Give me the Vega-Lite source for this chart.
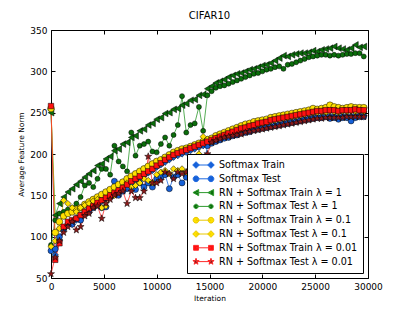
{
"$schema":"https://vega.github.io/schema/vega-lite/v6.json",
"width":317,"height":248,
"padding":{"left":17,"top":11,"right":5,"bottom":5},
"title":{"text":"CIFAR10","fontSize":10,"fontWeight":"normal","font":"DejaVu Sans","color":"#000","offset":5},
"config":{"font":"DejaVu Sans","view":{"stroke":"#000","strokeWidth":1},
"axis":{"grid":false,"domain":false,"tickColor":"#000","tickSize":-4,"labelPadding":8,"labelColor":"#000","labelFontSize":9,"titleFontSize":7.5,"titleFontWeight":"normal","titleColor":"#000","labelFont":"DejaVu Sans","titleFont":"DejaVu Sans"}},
"data":{"values":[
{"s":"a","x":0,"y":254},{"s":"a","x":400,"y":78},{"s":"a","x":800,"y":95},{"s":"a","x":1200,"y":108},{"s":"a","x":1600,"y":114},{"s":"a","x":2000,"y":115},{"s":"a","x":2400,"y":120},{"s":"a","x":2800,"y":126},{"s":"a","x":3200,"y":130},{"s":"a","x":3600,"y":134},
{"s":"a","x":4000,"y":137},{"s":"a","x":4400,"y":140},{"s":"a","x":4800,"y":143},{"s":"a","x":5200,"y":146},{"s":"a","x":5600,"y":149},{"s":"a","x":6000,"y":152},{"s":"a","x":6400,"y":155},{"s":"a","x":6800,"y":158},{"s":"a","x":7200,"y":161},{"s":"a","x":7600,"y":165},
{"s":"a","x":8000,"y":168},{"s":"a","x":8400,"y":171},{"s":"a","x":8800,"y":174},{"s":"a","x":9200,"y":177},{"s":"a","x":9600,"y":180},{"s":"a","x":10000,"y":184},{"s":"a","x":10400,"y":187},{"s":"a","x":10800,"y":190},{"s":"a","x":11200,"y":193},{"s":"a","x":11600,"y":196},
{"s":"a","x":12000,"y":198},{"s":"a","x":12400,"y":200},{"s":"a","x":12800,"y":202},{"s":"a","x":13200,"y":204},{"s":"a","x":13600,"y":206},{"s":"a","x":14000,"y":208},{"s":"a","x":14400,"y":210},{"s":"a","x":14800,"y":212},{"s":"a","x":15200,"y":214},{"s":"a","x":15600,"y":216},
{"s":"a","x":16000,"y":218},{"s":"a","x":16400,"y":220},{"s":"a","x":16800,"y":221},{"s":"a","x":17200,"y":223},{"s":"a","x":17600,"y":224},{"s":"a","x":18000,"y":226},{"s":"a","x":18400,"y":227},{"s":"a","x":18800,"y":228},{"s":"a","x":19200,"y":230},{"s":"a","x":19600,"y":231},
{"s":"a","x":20000,"y":232},{"s":"a","x":20400,"y":233},{"s":"a","x":20800,"y":234},{"s":"a","x":21200,"y":235},{"s":"a","x":21600,"y":236},{"s":"a","x":22000,"y":237},{"s":"a","x":22400,"y":238},{"s":"a","x":22800,"y":239},{"s":"a","x":23200,"y":240},{"s":"a","x":23600,"y":241},
{"s":"a","x":24000,"y":242},{"s":"a","x":24400,"y":243},{"s":"a","x":24800,"y":244},{"s":"a","x":25200,"y":245},{"s":"a","x":25600,"y":245},{"s":"a","x":26000,"y":246},{"s":"a","x":26400,"y":246},{"s":"a","x":26800,"y":246},{"s":"a","x":27200,"y":245},{"s":"a","x":27600,"y":246},
{"s":"a","x":28000,"y":246},{"s":"a","x":28400,"y":246},{"s":"a","x":28800,"y":247},{"s":"a","x":29200,"y":247},{"s":"a","x":29600,"y":247},
{"s":"b","x":0,"y":83},{"s":"b","x":400,"y":85},{"s":"b","x":800,"y":100},{"s":"b","x":1200,"y":110},{"s":"b","x":1600,"y":115},{"s":"b","x":2000,"y":115},{"s":"b","x":2400,"y":122},{"s":"b","x":2800,"y":120},{"s":"b","x":3200,"y":128},{"s":"b","x":3600,"y":130},
{"s":"b","x":4000,"y":135},{"s":"b","x":4400,"y":138},{"s":"b","x":4800,"y":135},{"s":"b","x":5200,"y":136},{"s":"b","x":5600,"y":148},{"s":"b","x":6000,"y":167},{"s":"b","x":6400,"y":150},{"s":"b","x":6800,"y":155},{"s":"b","x":7200,"y":158},{"s":"b","x":7600,"y":162},
{"s":"b","x":8000,"y":157},{"s":"b","x":8400,"y":165},{"s":"b","x":8800,"y":160},{"s":"b","x":9200,"y":165},{"s":"b","x":9600,"y":160},{"s":"b","x":10000,"y":170},{"s":"b","x":10400,"y":172},{"s":"b","x":10800,"y":175},{"s":"b","x":11200,"y":158},{"s":"b","x":11600,"y":172},
{"s":"b","x":12000,"y":175},{"s":"b","x":12400,"y":165},{"s":"b","x":12800,"y":172},{"s":"b","x":13200,"y":170},{"s":"b","x":13600,"y":175},{"s":"b","x":14000,"y":178},{"s":"b","x":14400,"y":180},{"s":"b","x":14800,"y":210},{"s":"b","x":15200,"y":213},{"s":"b","x":15600,"y":215},
{"s":"b","x":16000,"y":217},{"s":"b","x":16400,"y":219},{"s":"b","x":16800,"y":220},{"s":"b","x":17200,"y":222},{"s":"b","x":17600,"y":223},{"s":"b","x":18000,"y":225},{"s":"b","x":18400,"y":226},{"s":"b","x":18800,"y":227},{"s":"b","x":19200,"y":229},{"s":"b","x":19600,"y":230},
{"s":"b","x":20000,"y":231},{"s":"b","x":20400,"y":232},{"s":"b","x":20800,"y":233},{"s":"b","x":21200,"y":234},{"s":"b","x":21600,"y":235},{"s":"b","x":22000,"y":236},{"s":"b","x":22400,"y":237},{"s":"b","x":22800,"y":238},{"s":"b","x":23200,"y":239},{"s":"b","x":23600,"y":240},
{"s":"b","x":24000,"y":241},{"s":"b","x":24400,"y":242},{"s":"b","x":24800,"y":243},{"s":"b","x":25200,"y":244},{"s":"b","x":25600,"y":244},{"s":"b","x":26000,"y":245},{"s":"b","x":26400,"y":243},{"s":"b","x":26800,"y":244},{"s":"b","x":27200,"y":242},{"s":"b","x":27600,"y":244},
{"s":"b","x":28000,"y":244},{"s":"b","x":28400,"y":240},{"s":"b","x":28800,"y":244},{"s":"b","x":29200,"y":245},{"s":"b","x":29600,"y":245},
{"s":"c","x":0,"y":250},{"s":"c","x":400,"y":126},{"s":"c","x":800,"y":140},{"s":"c","x":1200,"y":148},{"s":"c","x":1600,"y":154},{"s":"c","x":2000,"y":158},{"s":"c","x":2400,"y":163},{"s":"c","x":2800,"y":167},{"s":"c","x":3200,"y":172},{"s":"c","x":3600,"y":176},
{"s":"c","x":4000,"y":180},{"s":"c","x":4400,"y":186},{"s":"c","x":4800,"y":188},{"s":"c","x":5200,"y":194},{"s":"c","x":5600,"y":197},{"s":"c","x":6000,"y":204},{"s":"c","x":6400,"y":206},{"s":"c","x":6800,"y":212},{"s":"c","x":7200,"y":214},{"s":"c","x":7600,"y":220},
{"s":"c","x":8000,"y":222},{"s":"c","x":8400,"y":228},{"s":"c","x":8800,"y":230},{"s":"c","x":9200,"y":235},{"s":"c","x":9600,"y":237},{"s":"c","x":10000,"y":242},{"s":"c","x":10400,"y":244},{"s":"c","x":10800,"y":249},{"s":"c","x":11200,"y":250},{"s":"c","x":11600,"y":254},
{"s":"c","x":12000,"y":255},{"s":"c","x":12400,"y":259},{"s":"c","x":12800,"y":261},{"s":"c","x":13200,"y":265},{"s":"c","x":13600,"y":266},{"s":"c","x":14000,"y":271},{"s":"c","x":14400,"y":272},{"s":"c","x":14800,"y":279},{"s":"c","x":15200,"y":282},{"s":"c","x":15600,"y":286},
{"s":"c","x":16000,"y":288},{"s":"c","x":16400,"y":290},{"s":"c","x":16800,"y":293},{"s":"c","x":17200,"y":295},{"s":"c","x":17600,"y":297},{"s":"c","x":18000,"y":298},{"s":"c","x":18400,"y":300},{"s":"c","x":18800,"y":302},{"s":"c","x":19200,"y":303},{"s":"c","x":19600,"y":305},
{"s":"c","x":20000,"y":307},{"s":"c","x":20400,"y":308},{"s":"c","x":20800,"y":310},{"s":"c","x":21200,"y":313},{"s":"c","x":21600,"y":316},{"s":"c","x":22000,"y":319},{"s":"c","x":22400,"y":318},{"s":"c","x":22800,"y":320},{"s":"c","x":23200,"y":321},{"s":"c","x":23600,"y":322},
{"s":"c","x":24000,"y":322},{"s":"c","x":24400,"y":323},{"s":"c","x":24800,"y":325},{"s":"c","x":25200,"y":324},{"s":"c","x":25600,"y":326},{"s":"c","x":26000,"y":327},{"s":"c","x":26400,"y":328},{"s":"c","x":26800,"y":330},{"s":"c","x":27200,"y":328},{"s":"c","x":27600,"y":327},
{"s":"c","x":28000,"y":326},{"s":"c","x":28400,"y":328},{"s":"c","x":28800,"y":332},{"s":"c","x":29200,"y":329},{"s":"c","x":29600,"y":330},
{"s":"d","x":0,"y":90},{"s":"d","x":400,"y":120},{"s":"d","x":800,"y":128},{"s":"d","x":1200,"y":130},{"s":"d","x":1600,"y":133},{"s":"d","x":2000,"y":135},{"s":"d","x":2400,"y":140},{"s":"d","x":2800,"y":148},{"s":"d","x":3200,"y":162},{"s":"d","x":3600,"y":165},
{"s":"d","x":4000,"y":160},{"s":"d","x":4400,"y":170},{"s":"d","x":4800,"y":182},{"s":"d","x":5200,"y":182},{"s":"d","x":5600,"y":175},{"s":"d","x":6000,"y":210},{"s":"d","x":6400,"y":191},{"s":"d","x":6800,"y":185},{"s":"d","x":7200,"y":179},{"s":"d","x":7600,"y":226},
{"s":"d","x":8000,"y":198},{"s":"d","x":8400,"y":210},{"s":"d","x":8800,"y":212},{"s":"d","x":9200,"y":215},{"s":"d","x":9600,"y":203},{"s":"d","x":10000,"y":202},{"s":"d","x":10400,"y":212},{"s":"d","x":10800,"y":220},{"s":"d","x":11200,"y":210},{"s":"d","x":11600,"y":223},
{"s":"d","x":12000,"y":235},{"s":"d","x":12400,"y":270},{"s":"d","x":12800,"y":226},{"s":"d","x":13200,"y":235},{"s":"d","x":13600,"y":237},{"s":"d","x":14000,"y":257},{"s":"d","x":14400,"y":228},{"s":"d","x":14800,"y":271},{"s":"d","x":15200,"y":276},{"s":"d","x":15600,"y":280},
{"s":"d","x":16000,"y":282},{"s":"d","x":16400,"y":283},{"s":"d","x":16800,"y":285},{"s":"d","x":17200,"y":287},{"s":"d","x":17600,"y":289},{"s":"d","x":18000,"y":291},{"s":"d","x":18400,"y":293},{"s":"d","x":18800,"y":295},{"s":"d","x":19200,"y":297},{"s":"d","x":19600,"y":298},
{"s":"d","x":20000,"y":300},{"s":"d","x":20400,"y":302},{"s":"d","x":20800,"y":303},{"s":"d","x":21200,"y":305},{"s":"d","x":21600,"y":306},{"s":"d","x":22000,"y":303},{"s":"d","x":22400,"y":308},{"s":"d","x":22800,"y":309},{"s":"d","x":23200,"y":311},{"s":"d","x":23600,"y":313},
{"s":"d","x":24000,"y":315},{"s":"d","x":24400,"y":317},{"s":"d","x":24800,"y":318},{"s":"d","x":25200,"y":319},{"s":"d","x":25600,"y":320},{"s":"d","x":26000,"y":320},{"s":"d","x":26400,"y":319},{"s":"d","x":26800,"y":320},{"s":"d","x":27200,"y":319},{"s":"d","x":27600,"y":320},
{"s":"d","x":28000,"y":321},{"s":"d","x":28400,"y":321},{"s":"d","x":28800,"y":322},{"s":"d","x":29200,"y":322},{"s":"d","x":29600,"y":318},
{"s":"e","x":0,"y":255},{"s":"e","x":400,"y":105},{"s":"e","x":800,"y":118},{"s":"e","x":1200,"y":125},{"s":"e","x":1600,"y":128},{"s":"e","x":2000,"y":130},{"s":"e","x":2400,"y":133},{"s":"e","x":2800,"y":135},{"s":"e","x":3200,"y":139},{"s":"e","x":3600,"y":142},
{"s":"e","x":4000,"y":145},{"s":"e","x":4400,"y":148},{"s":"e","x":4800,"y":151},{"s":"e","x":5200,"y":154},{"s":"e","x":5600,"y":157},{"s":"e","x":6000,"y":160},{"s":"e","x":6400,"y":163},{"s":"e","x":6800,"y":166},{"s":"e","x":7200,"y":170},{"s":"e","x":7600,"y":173},
{"s":"e","x":8000,"y":176},{"s":"e","x":8400,"y":179},{"s":"e","x":8800,"y":182},{"s":"e","x":9200,"y":185},{"s":"e","x":9600,"y":188},{"s":"e","x":10000,"y":191},{"s":"e","x":10400,"y":193},{"s":"e","x":10800,"y":196},{"s":"e","x":11200,"y":199},{"s":"e","x":11600,"y":202},
{"s":"e","x":12000,"y":204},{"s":"e","x":12400,"y":206},{"s":"e","x":12800,"y":207},{"s":"e","x":13200,"y":209},{"s":"e","x":13600,"y":211},{"s":"e","x":14000,"y":213},{"s":"e","x":14400,"y":215},{"s":"e","x":14800,"y":217},{"s":"e","x":15200,"y":219},{"s":"e","x":15600,"y":222},
{"s":"e","x":16000,"y":224},{"s":"e","x":16400,"y":226},{"s":"e","x":16800,"y":228},{"s":"e","x":17200,"y":230},{"s":"e","x":17600,"y":232},{"s":"e","x":18000,"y":234},{"s":"e","x":18400,"y":236},{"s":"e","x":18800,"y":237},{"s":"e","x":19200,"y":239},{"s":"e","x":19600,"y":240},
{"s":"e","x":20000,"y":241},{"s":"e","x":20400,"y":242},{"s":"e","x":20800,"y":244},{"s":"e","x":21200,"y":245},{"s":"e","x":21600,"y":246},{"s":"e","x":22000,"y":247},{"s":"e","x":22400,"y":248},{"s":"e","x":22800,"y":249},{"s":"e","x":23200,"y":250},{"s":"e","x":23600,"y":251},
{"s":"e","x":24000,"y":252},{"s":"e","x":24400,"y":253},{"s":"e","x":24800,"y":255},{"s":"e","x":25200,"y":254},{"s":"e","x":25600,"y":255},{"s":"e","x":26000,"y":256},{"s":"e","x":26400,"y":259},{"s":"e","x":26800,"y":257},{"s":"e","x":27200,"y":256},{"s":"e","x":27600,"y":255},
{"s":"e","x":28000,"y":256},{"s":"e","x":28400,"y":257},{"s":"e","x":28800,"y":256},{"s":"e","x":29200,"y":256},{"s":"e","x":29600,"y":256},
{"s":"f","x":0,"y":88},{"s":"f","x":400,"y":95},{"s":"f","x":800,"y":110},{"s":"f","x":1200,"y":144},{"s":"f","x":1600,"y":140},{"s":"f","x":2000,"y":135},{"s":"f","x":2400,"y":130},{"s":"f","x":2800,"y":135},{"s":"f","x":3200,"y":138},{"s":"f","x":3600,"y":140},
{"s":"f","x":4000,"y":143},{"s":"f","x":4400,"y":145},{"s":"f","x":4800,"y":135},{"s":"f","x":5200,"y":137},{"s":"f","x":5600,"y":148},{"s":"f","x":6000,"y":150},{"s":"f","x":6400,"y":155},{"s":"f","x":6800,"y":160},{"s":"f","x":7200,"y":165},{"s":"f","x":7600,"y":160},
{"s":"f","x":8000,"y":162},{"s":"f","x":8400,"y":165},{"s":"f","x":8800,"y":170},{"s":"f","x":9200,"y":168},{"s":"f","x":9600,"y":165},{"s":"f","x":10000,"y":175},{"s":"f","x":10400,"y":178},{"s":"f","x":10800,"y":180},{"s":"f","x":11200,"y":176},{"s":"f","x":11600,"y":182},
{"s":"f","x":12000,"y":180},{"s":"f","x":12400,"y":182},{"s":"f","x":12800,"y":178},{"s":"f","x":13200,"y":175},{"s":"f","x":13600,"y":180},{"s":"f","x":14000,"y":200},{"s":"f","x":14400,"y":221},{"s":"f","x":14800,"y":218},{"s":"f","x":15200,"y":215},{"s":"f","x":15600,"y":219},
{"s":"f","x":16000,"y":221},{"s":"f","x":16400,"y":223},{"s":"f","x":16800,"y":224},{"s":"f","x":17200,"y":226},{"s":"f","x":17600,"y":228},{"s":"f","x":18000,"y":230},{"s":"f","x":18400,"y":232},{"s":"f","x":18800,"y":233},{"s":"f","x":19200,"y":235},{"s":"f","x":19600,"y":236},
{"s":"f","x":20000,"y":237},{"s":"f","x":20400,"y":238},{"s":"f","x":20800,"y":240},{"s":"f","x":21200,"y":241},{"s":"f","x":21600,"y":242},{"s":"f","x":22000,"y":243},{"s":"f","x":22400,"y":244},{"s":"f","x":22800,"y":245},{"s":"f","x":23200,"y":246},{"s":"f","x":23600,"y":247},
{"s":"f","x":24000,"y":248},{"s":"f","x":24400,"y":249},{"s":"f","x":24800,"y":250},{"s":"f","x":25200,"y":250},{"s":"f","x":25600,"y":251},{"s":"f","x":26000,"y":250},{"s":"f","x":26400,"y":252},{"s":"f","x":26800,"y":251},{"s":"f","x":27200,"y":250},{"s":"f","x":27600,"y":252},
{"s":"f","x":28000,"y":251},{"s":"f","x":28400,"y":252},{"s":"f","x":28800,"y":251},{"s":"f","x":29200,"y":252},{"s":"f","x":29600,"y":251},
{"s":"g","x":0,"y":258},{"s":"g","x":400,"y":72},{"s":"g","x":800,"y":92},{"s":"g","x":1200,"y":112},{"s":"g","x":1600,"y":118},{"s":"g","x":2000,"y":120},{"s":"g","x":2400,"y":122},{"s":"g","x":2800,"y":126},{"s":"g","x":3200,"y":130},{"s":"g","x":3600,"y":134},
{"s":"g","x":4000,"y":137},{"s":"g","x":4400,"y":141},{"s":"g","x":4800,"y":144},{"s":"g","x":5200,"y":147},{"s":"g","x":5600,"y":150},{"s":"g","x":6000,"y":153},{"s":"g","x":6400,"y":156},{"s":"g","x":6800,"y":159},{"s":"g","x":7200,"y":163},{"s":"g","x":7600,"y":167},
{"s":"g","x":8000,"y":170},{"s":"g","x":8400,"y":173},{"s":"g","x":8800,"y":176},{"s":"g","x":9200,"y":179},{"s":"g","x":9600,"y":182},{"s":"g","x":10000,"y":186},{"s":"g","x":10400,"y":189},{"s":"g","x":10800,"y":193},{"s":"g","x":11200,"y":196},{"s":"g","x":11600,"y":199},
{"s":"g","x":12000,"y":201},{"s":"g","x":12400,"y":203},{"s":"g","x":12800,"y":205},{"s":"g","x":13200,"y":207},{"s":"g","x":13600,"y":209},{"s":"g","x":14000,"y":211},{"s":"g","x":14400,"y":213},{"s":"g","x":14800,"y":215},{"s":"g","x":15200,"y":217},{"s":"g","x":15600,"y":219},
{"s":"g","x":16000,"y":221},{"s":"g","x":16400,"y":223},{"s":"g","x":16800,"y":225},{"s":"g","x":17200,"y":227},{"s":"g","x":17600,"y":229},{"s":"g","x":18000,"y":231},{"s":"g","x":18400,"y":232},{"s":"g","x":18800,"y":234},{"s":"g","x":19200,"y":235},{"s":"g","x":19600,"y":237},
{"s":"g","x":20000,"y":238},{"s":"g","x":20400,"y":239},{"s":"g","x":20800,"y":241},{"s":"g","x":21200,"y":242},{"s":"g","x":21600,"y":243},{"s":"g","x":22000,"y":244},{"s":"g","x":22400,"y":245},{"s":"g","x":22800,"y":246},{"s":"g","x":23200,"y":247},{"s":"g","x":23600,"y":248},
{"s":"g","x":24000,"y":249},{"s":"g","x":24400,"y":250},{"s":"g","x":24800,"y":251},{"s":"g","x":25200,"y":252},{"s":"g","x":25600,"y":252},{"s":"g","x":26000,"y":253},{"s":"g","x":26400,"y":253},{"s":"g","x":26800,"y":253},{"s":"g","x":27200,"y":252},{"s":"g","x":27600,"y":253},
{"s":"g","x":28000,"y":253},{"s":"g","x":28400,"y":253},{"s":"g","x":28800,"y":254},{"s":"g","x":29200,"y":253},{"s":"g","x":29600,"y":253},
{"s":"h","x":0,"y":55},{"s":"h","x":400,"y":75},{"s":"h","x":800,"y":95},{"s":"h","x":1200,"y":105},{"s":"h","x":1600,"y":112},{"s":"h","x":2000,"y":118},{"s":"h","x":2400,"y":108},{"s":"h","x":2800,"y":112},{"s":"h","x":3200,"y":125},{"s":"h","x":3600,"y":128},
{"s":"h","x":4000,"y":135},{"s":"h","x":4400,"y":137},{"s":"h","x":4800,"y":122},{"s":"h","x":5200,"y":140},{"s":"h","x":5600,"y":145},{"s":"h","x":6000,"y":150},{"s":"h","x":6400,"y":152},{"s":"h","x":6800,"y":155},{"s":"h","x":7200,"y":140},{"s":"h","x":7600,"y":155},
{"s":"h","x":8000,"y":147},{"s":"h","x":8400,"y":147},{"s":"h","x":8800,"y":155},{"s":"h","x":9200,"y":197},{"s":"h","x":9600,"y":165},{"s":"h","x":10000,"y":165},{"s":"h","x":10400,"y":168},{"s":"h","x":10800,"y":178},{"s":"h","x":11200,"y":176},{"s":"h","x":11600,"y":170},
{"s":"h","x":12000,"y":178},{"s":"h","x":12400,"y":176},{"s":"h","x":12800,"y":178},{"s":"h","x":13200,"y":172},{"s":"h","x":13600,"y":175},{"s":"h","x":14000,"y":180},{"s":"h","x":14400,"y":178},{"s":"h","x":14800,"y":200},{"s":"h","x":15200,"y":214},{"s":"h","x":15600,"y":216},
{"s":"h","x":16000,"y":218},{"s":"h","x":16400,"y":220},{"s":"h","x":16800,"y":221},{"s":"h","x":17200,"y":222},{"s":"h","x":17600,"y":223},{"s":"h","x":18000,"y":224},{"s":"h","x":18400,"y":226},{"s":"h","x":18800,"y":227},{"s":"h","x":19200,"y":228},{"s":"h","x":19600,"y":229},
{"s":"h","x":20000,"y":230},{"s":"h","x":20400,"y":231},{"s":"h","x":20800,"y":232},{"s":"h","x":21200,"y":233},{"s":"h","x":21600,"y":234},{"s":"h","x":22000,"y":235},{"s":"h","x":22400,"y":236},{"s":"h","x":22800,"y":237},{"s":"h","x":23200,"y":238},{"s":"h","x":23600,"y":239},
{"s":"h","x":24000,"y":240},{"s":"h","x":24400,"y":241},{"s":"h","x":24800,"y":242},{"s":"h","x":25200,"y":243},{"s":"h","x":25600,"y":243},{"s":"h","x":26000,"y":244},{"s":"h","x":26400,"y":244},{"s":"h","x":26800,"y":244},{"s":"h","x":27200,"y":244},{"s":"h","x":27600,"y":244},
{"s":"h","x":28000,"y":245},{"s":"h","x":28400,"y":245},{"s":"h","x":28800,"y":245},{"s":"h","x":29200,"y":245},{"s":"h","x":29600,"y":245}
]},
"layer":[
{"mark":{"type":"line","strokeWidth":1,"opacity":0.8},
"encoding":{
"x":{"field":"x","type":"quantitative","scale":{"domain":[0,30000],"nice":false},"axis":{"title":"Iteration","values":[0,5000,10000,15000,20000,25000,30000],"format":"d","labelFlush":false,"labelOverlap":false,"titlePadding":3}},
"y":{"field":"y","type":"quantitative","scale":{"domain":[50,350],"nice":false,"zero":false},"axis":{"title":"Average Feature Norm","values":[50,100,150,200,250,300,350],"labelOverlap":false,"titlePadding":4}},
"color":{"field":"s","type":"nominal","scale":{"domain":["a","b","c","d","e","f","g","h"],"range":["#1f6ae0","#1f6ae0","#2e9a2e","#2e9a2e","#e8c800","#e8c800","#ff2a2a","#ff2a2a"]},
"legend":{"orient":"bottom-right","offset":5,"title":null,"labelExpr":"{'a':'Softmax Train','b':'Softmax Test','c':'RN + Softmax Train λ = 1','d':'RN + Softmax Test λ = 1','e':'RN + Softmax Train λ = 0.1','f':'RN + Softmax Test λ = 0.1','g':'RN + Softmax Train λ = 0.01','h':'RN + Softmax Test λ = 0.01'}[datum.value]","labelFontSize":9.6,"labelFont":"DejaVu Sans","labelColor":"#000","fillColor":"#fff","strokeColor":"#000","padding":5,"symbolSize":484,"clipHeight":12,"rowPadding":1.8,"labelOffset":4,"symbolOffset":0,"symbolOpacity":1,"symbolStrokeWidth":1}}
}},
{"mark":{"type":"point","filled":true,"opacity":0,"size":484},
"encoding":{
"x":{"field":"x","type":"quantitative","axis":null},"y":{"field":"y","type":"quantitative","axis":null},
"shape":{"field":"s","type":"nominal","scale":{"domain":["a","b","c","d","e","f","g","h"],"range":[
"M-0.68,0H0.68M-0.68,-0.3L-0.38,0L-0.68,0.3L-0.98,0ZM0.68,-0.3L0.98,0L0.68,0.3L0.38,0Z",
"M-0.68,0H0.68M-0.94,0A0.26,0.26 0 1,0 -0.42,0A0.26,0.26 0 1,0 -0.94,0ZM0.42,0A0.26,0.26 0 1,0 0.94,0A0.26,0.26 0 1,0 0.42,0Z",
"M-0.68,0H0.68M-0.96,0L-0.44,-0.28L-0.44,0.28ZM0.4,0L0.92,-0.28L0.92,0.28Z",
"M-0.68,0H0.68M-0.88,0A0.2,0.2 0 1,0 -0.48,0A0.2,0.2 0 1,0 -0.88,0ZM0.48,0A0.2,0.2 0 1,0 0.88,0A0.2,0.2 0 1,0 0.48,0Z",
"M-0.68,0H0.68M-0.94,0A0.26,0.26 0 1,0 -0.42,0A0.26,0.26 0 1,0 -0.94,0ZM0.42,0A0.26,0.26 0 1,0 0.94,0A0.26,0.26 0 1,0 0.42,0Z",
"M-0.68,0H0.68M-0.68,-0.3L-0.38,0L-0.68,0.3L-0.98,0ZM0.68,-0.3L0.98,0L0.68,0.3L0.38,0Z",
"M-0.68,0H0.68M-0.9,-0.22H-0.46V0.22H-0.9ZM0.46,-0.22H0.9V0.22H0.46Z",
"M-0.68,0H0.68M-0.68,-0.3L-0.61,-0.097L-0.395,-0.093L-0.566,0.037L-0.504,0.243L-0.68,0.12L-0.856,0.243L-0.794,0.037L-0.965,-0.093L-0.75,-0.097ZM0.68,-0.3L0.75,-0.097L0.965,-0.093L0.794,0.037L0.856,0.243L0.68,0.12L0.504,0.243L0.566,0.037L0.395,-0.093L0.61,-0.097Z"]},
"legend":{"orient":"bottom-right","offset":5,"title":null,"labelExpr":"{'a':'Softmax Train','b':'Softmax Test','c':'RN + Softmax Train λ = 1','d':'RN + Softmax Test λ = 1','e':'RN + Softmax Train λ = 0.1','f':'RN + Softmax Test λ = 0.1','g':'RN + Softmax Train λ = 0.01','h':'RN + Softmax Test λ = 0.01'}[datum.value]","labelFontSize":9.6,"labelFont":"DejaVu Sans","labelColor":"#000","fillColor":"#fff","strokeColor":"#000","padding":5,"symbolSize":484,"clipHeight":12,"rowPadding":1.8,"labelOffset":4,"symbolOffset":0,"symbolOpacity":1,"symbolStrokeWidth":1}},
"fill":{"field":"s","type":"nominal","scale":{"domain":["a","b","c","d","e","f","g","h"],"range":["#1560d8","#1560d8","#0b6e0b","#0b6e0b","#ffe000","#ffe000","#ff1010","#8b1a1a"]},
"legend":{"orient":"bottom-right","offset":5,"title":null,"labelExpr":"{'a':'Softmax Train','b':'Softmax Test','c':'RN + Softmax Train λ = 1','d':'RN + Softmax Test λ = 1','e':'RN + Softmax Train λ = 0.1','f':'RN + Softmax Test λ = 0.1','g':'RN + Softmax Train λ = 0.01','h':'RN + Softmax Test λ = 0.01'}[datum.value]","labelFontSize":9.6,"labelFont":"DejaVu Sans","labelColor":"#000","fillColor":"#fff","strokeColor":"#000","padding":5,"symbolSize":484,"clipHeight":12,"rowPadding":1.8,"labelOffset":4,"symbolOffset":0,"symbolOpacity":1,"symbolStrokeWidth":1}}
}},
{"transform":[{"filter":"datum.s==='a'"}],"mark":{"type":"point","filled":true,"shape":"diamond","size":40,"fill":"#1560d8","stroke":"#000","strokeWidth":0.5,"opacity":1},
"encoding":{"x":{"field":"x","type":"quantitative","axis":{"orient":"top","labels":false,"title":null,"values":[0,5000,10000,15000,20000,25000,30000]}},"y":{"field":"y","type":"quantitative","axis":{"orient":"right","labels":false,"title":null,"values":[50,100,150,200,250,300,350]}}}},
{"transform":[{"filter":"datum.s==='b'"}],"mark":{"type":"point","filled":true,"shape":"circle","size":36,"fill":"#1560d8","stroke":"#000","strokeWidth":0.5,"opacity":1},
"encoding":{"x":{"field":"x","type":"quantitative","axis":null},"y":{"field":"y","type":"quantitative","axis":null}}},
{"transform":[{"filter":"datum.s==='c'"}],"mark":{"type":"point","filled":true,"shape":"triangle-left","size":45,"fill":"#0b6e0b","stroke":"#000","strokeWidth":0.5,"opacity":1},
"encoding":{"x":{"field":"x","type":"quantitative","axis":null},"y":{"field":"y","type":"quantitative","axis":null}}},
{"transform":[{"filter":"datum.s==='d'"}],"mark":{"type":"point","filled":true,"shape":"circle","size":25,"fill":"#0b6e0b","stroke":"#000","strokeWidth":0.5,"opacity":1},
"encoding":{"x":{"field":"x","type":"quantitative","axis":null},"y":{"field":"y","type":"quantitative","axis":null}}},
{"transform":[{"filter":"datum.s==='e'"}],"mark":{"type":"point","filled":true,"shape":"circle","size":45,"fill":"#ffe000","stroke":"#000","strokeWidth":0.5,"opacity":1},
"encoding":{"x":{"field":"x","type":"quantitative","axis":null},"y":{"field":"y","type":"quantitative","axis":null}}},
{"transform":[{"filter":"datum.s==='f'"}],"mark":{"type":"point","filled":true,"shape":"diamond","size":40,"fill":"#ffe000","stroke":"#000","strokeWidth":0.5,"opacity":1},
"encoding":{"x":{"field":"x","type":"quantitative","axis":null},"y":{"field":"y","type":"quantitative","axis":null}}},
{"transform":[{"filter":"datum.s==='g'"}],"mark":{"type":"point","filled":true,"shape":"square","size":30,"fill":"#ff1010","stroke":"#000","strokeWidth":0.5,"opacity":1},
"encoding":{"x":{"field":"x","type":"quantitative","axis":null},"y":{"field":"y","type":"quantitative","axis":null}}},
{"transform":[{"filter":"datum.s==='h'"}],"mark":{"type":"point","filled":true,"shape":"M0,-1L0.235,-0.324L0.951,-0.309L0.38,0.124L0.588,0.809L0,0.4L-0.588,0.809L-0.38,0.124L-0.951,-0.309L-0.235,-0.324Z","size":55,"fill":"#8b1a1a","stroke":"#000","strokeWidth":0.5,"opacity":1},
"encoding":{"x":{"field":"x","type":"quantitative","axis":null},"y":{"field":"y","type":"quantitative","axis":null}}}
],
"resolve":{"axis":{"x":"independent","y":"independent"}}
}
